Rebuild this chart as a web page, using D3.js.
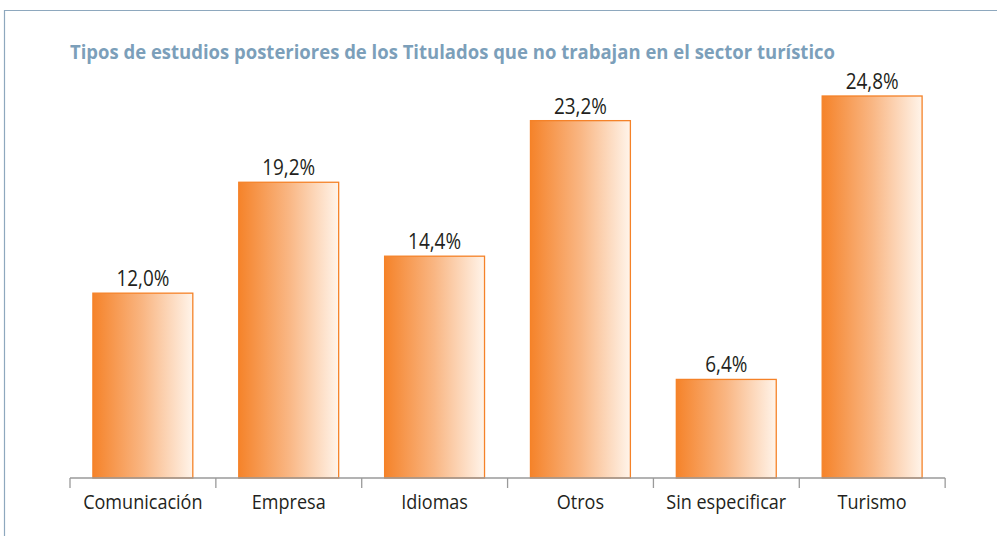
<!DOCTYPE html>
<html>
<head>
<meta charset="utf-8">
<script src="https://cdn.jsdelivr.net/npm/d3@7"></script>
<style>
  body { margin: 0; background: #fff; }
  svg { display: block; }
</style>
</head>
<body>
<div id="chart"></div>
<script>
'use strict';

const title = 'Tipos de estudios posteriores de los Titulados que no trabajan en el sector turístico';
const categories = ['Comunicación', 'Empresa', 'Idiomas', 'Otros', 'Sin especificar', 'Turismo'];
const values = [12.0, 19.2, 14.4, 23.2, 6.4, 24.8];

const width = 997, height = 536;
const margin = {left: 70, right: 52, top: 96, bottom: 58};
const orange = '#f58228';
const font = 'Open Sans, sans-serif';

let svg = d3.select('#chart').append('svg')
    .attr('width', width)
    .attr('height', height);

// gradient from solid orange on the left to near white on the right
let grad = svg.append('defs').append('linearGradient')
    .attr('id', 'barFill')
    .attr('x1', '0%').attr('x2', '100%')
    .attr('y1', '0%').attr('y2', '0%');
grad.append('stop').attr('offset', '0%').attr('stop-color', '#f5832a');
grad.append('stop').attr('offset', '50%').attr('stop-color', '#f9b683');
grad.append('stop').attr('offset', '100%').attr('stop-color', '#fff4ea');

// squeeze text horizontally a bit, the original face is narrower than Open Sans
function condense(sel, factor) {
    sel.each(function() {
        let len = this.getComputedTextLength();
        d3.select(this)
            .attr('textLength', len * factor)
            .attr('lengthAdjust', 'spacingAndGlyphs');
    });
}

// frame (top and left edges only)
svg.append('path')
    .attr('d', `M4.5,${height} L4.5,10.5 L${width},10.5`)
    .attr('fill', 'none')
    .attr('stroke', '#8ea8be')
    .attr('stroke-width', 1.2);

svg.append('text')
    .attr('x', 70)
    .attr('y', 59)
    .attr('font-family', font)
    .attr('font-weight', 'bold')
    .attr('font-size', 19.5)
    .attr('fill', '#7c9fba')
    .attr('textLength', 765)
    .attr('lengthAdjust', 'spacingAndGlyphs')
    .text(title);

let baseY = 478;
let x = d3.scaleBand()
    .domain(categories)
    .range([margin.left, width - margin.right])
    .paddingInner(0.315)
    .paddingOuter(0.157);

let y = d3.scaleLinear()
    .domain([0, 24.8])
    .range([baseY, 96]);

let g = svg.append('g');

g.selectAll('.bar')
    .data(categories)
    .join('rect')
    .attr('class', 'bar')
    .attr('x', d => x(d))
    .attr('width', x.bandwidth())
    .attr('y', (d, i) => y(values[i]))
    .attr('height', (d, i) => baseY - y(values[i]))
    .attr('fill', 'url(#barFill)')
    .attr('stroke', orange)
    .attr('stroke-width', 1.3);

g.selectAll('.val')
    .data(categories)
    .join('text')
    .attr('class', 'val')
    .attr('x', d => x(d) + x.bandwidth() / 2)
    .attr('y', (d, i) => y(values[i]) - 7)
    .attr('text-anchor', 'middle')
    .attr('font-family', font)
    .attr('font-size', 21)
    .attr('fill', '#231f20')
    .text((d, i) => values[i].toFixed(1).replace('.', ',') + '%')
    .call(condense, 0.9);

// axis: baseline with ticks at band boundaries
let axisG = svg.append('g').attr('transform', `translate(0,${baseY})`);
let step = x.step();
let bounds = d3.range(categories.length + 1).map(i => margin.left + i * step);
axisG.append('line')
    .attr('x1', margin.left).attr('x2', bounds[bounds.length - 1])
    .attr('stroke', '#9a9a9a').attr('stroke-width', 1.3);
axisG.selectAll('.tick')
    .data(bounds)
    .join('line')
    .attr('x1', d => d).attr('x2', d => d)
    .attr('y1', 0).attr('y2', 10)
    .attr('stroke', '#9a9a9a').attr('stroke-width', 1.3);
axisG.selectAll('.cat')
    .data(categories)
    .join('text')
    .attr('x', d => x(d) + x.bandwidth() / 2)
    .attr('y', 31)
    .attr('text-anchor', 'middle')
    .attr('font-family', font)
    .attr('font-size', 20.5)
    .attr('fill', '#231f20')
    .text(d => d)
    .call(condense, 0.88);
</script>
</body>
</html>
